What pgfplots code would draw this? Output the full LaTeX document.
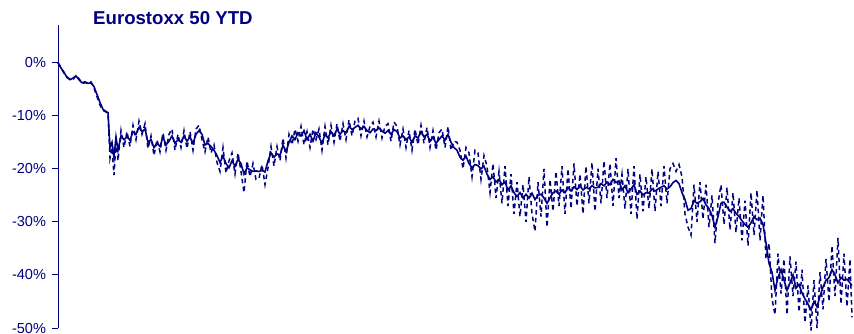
\documentclass[border=0pt]{standalone}
\usepackage{fontspec}
\setmainfont{Liberation Sans}
\usepackage{pgfplots}
\pgfplotsset{compat=1.18}
\definecolor{navy}{RGB}{0,0,128}
\begin{document}
\begin{tikzpicture}
\useasboundingbox (-58bp,-6bp) rectangle (796bp,328bp);
\begin{axis}[
  at={(0,0)}, anchor=south west,
  scale only axis, width=794bp, height=303bp,
  xmin=0, xmax=794, ymin=-50, ymax=7.1,
  axis x line=none, axis y line*=left,
  axis line style={navy, line width=1pt},
  ytick={-50,-40,-30,-20,-10,0},
  yticklabels={-50\%,-40\%,-30\%,-20\%,-10\%,0\%},
  tick align=outside, major tick length=6bp,
  tick style={navy, line width=1pt},
  yticklabel style={text=navy, font=\fontsize{14.6}{16}\selectfont, xshift=-2.5bp},
  clip=false,
]
\addplot[navy, line width=1.5pt, dash pattern=on 4.5pt off 3.5pt] coordinates {
(0,0)(3,-0.9)(6,-2.0)(9,-2.7)(12,-3.1)(15,-3.2)(18,-2.4)(21,-3.0)(24,-3.9)(27,-3.8)(30,-3.9)(33,-3.6)(36,-4.8)(39,-6.4)(42,-8.0)(45,-9.0)(48,-9.3)(50,-9.5)
(52,-18.0)(54,-16.0)(56,-21.2)(58,-15.0)(60,-18.5)(63,-12.8)(66,-16.0)(69,-13.0)(72,-15.8)(75,-11.8)(78,-14.5)(81,-11.0)(84,-13.5)(87,-11.5)(90,-16.2)(93,-13.8)(96,-17.5)(99,-14.5)
(102,-16.8)(105,-13.2)(108,-16.5)(111,-13.5)(114,-12.5)(117,-16.5)(120,-13.5)(123,-16.0)(126,-12.8)(129,-16.2)(132,-13.0)(135,-16.5)(138,-12.5)(141,-11.8)(144,-14.5)(147,-16.8)
(150,-14.0)(153,-17.0)(156,-15.5)(159,-18.8)(162,-20.5)(165,-16.0)(168,-20.8)(171,-18.5)(174,-17.0)(177,-21.0)(180,-17.0)(183,-20.5)(186,-24.5)(189,-18.5)(192,-21.5)(195,-19.0)
(198,-22.0)(201,-21.8)(204,-19.2)(207,-23.0)(210,-19.8)(213,-15.8)(216,-19.5)(219,-15.8)(222,-18.5)(225,-14.2)(228,-18.0)(231,-13.5)(234,-15.5)(237,-12.5)(240,-14.8)(243,-12.0)
(246,-15.5)(249,-13.0)(252,-16.0)(255,-12.5)(258,-14.5)(261,-12.5)(264,-16.5)(267,-12.0)(270,-15.5)(273,-11.8)(276,-15.0)(279,-11.5)(282,-14.8)(285,-11.5)(288,-14.5)(291,-10.8)
(294,-13.8)(297,-11.0)(300,-10.5)(303,-13.8)(306,-11.0)(309,-14.0)(312,-12.0)(315,-11.2)(318,-14.0)(321,-11.0)(324,-14.2)(327,-12.0)(330,-11.5)(333,-14.8)(336,-11.2)(339,-12.0)
(342,-15.5)(345,-12.5)(348,-16.0)(351,-12.8)(354,-16.5)(357,-12.5)(360,-15.5)(363,-11.8)(366,-15.2)(369,-12.2)(372,-16.0)(375,-12.8)(378,-16.5)(381,-13.2)(384,-12.5)(387,-16.0)
(390,-12.0)(393,-16.5)(396,-14.8)(399,-15.0)(402,-16.5)(405,-20.0)(408,-16.0)(411,-17.0)(414,-21.5)(417,-16.5)(420,-17.0)(423,-22.0)(426,-17.5)(429,-19.5)(432,-24.5)(435,-19.0)
(438,-25.5)(441,-20.5)(444,-26.5)(447,-19.5)(450,-27.0)(453,-21.0)(456,-28.5)(459,-22.5)(462,-29.0)(465,-23.0)(468,-30.0)(471,-21.5)(474,-28.5)(477,-31.8)(480,-22.5)(483,-29.0)
(486,-20.0)(489,-31.0)(492,-22.0)(495,-28.0)(498,-20.5)(501,-27.0)(504,-19.5)(507,-28.5)(510,-20.0)(513,-27.5)(516,-19.0)(519,-27.0)(522,-21.0)(525,-28.5)(528,-19.5)(531,-26.5)
(534,-18.8)(537,-28.0)(540,-20.0)(543,-26.5)(546,-18.5)(549,-25.5)(552,-19.0)(555,-27.0)(558,-18.0)(561,-25.5)(564,-21.0)(567,-27.5)(570,-20.0)(573,-28.5)(576,-19.5)(579,-29.5)
(582,-21.0)(585,-28.0)(588,-21.5)(591,-27.5)(594,-20.0)(597,-28.0)(600,-20.5)(603,-27.0)(606,-19.5)(609,-26.5)(612,-20.0)(615,-19.0)(618,-20.5)(621,-19.2)(624,-21.5)(627,-28.5)
(630,-31.0)(633,-32.5)(636,-23.0)(639,-30.0)(642,-22.5)(645,-29.5)(648,-23.0)(651,-31.0)(654,-25.0)(657,-34.0)(660,-26.5)(663,-23.0)(666,-30.5)(669,-23.5)(672,-31.5)(675,-24.5)
(678,-32.0)(681,-25.5)(684,-33.5)(687,-26.0)(690,-34.5)(693,-24.5)(696,-32.5)(699,-24.0)(702,-33.5)(705,-25.0)(708,-37.0)(711,-34.0)(714,-44.5)(717,-47.5)(720,-36.0)(723,-43.5)
(726,-37.0)(729,-47.5)(732,-36.5)(735,-44.0)(738,-37.5)(741,-47.0)(744,-39.0)(747,-49.0)(750,-42.0)(753,-50.5)(756,-41.0)(759,-50.0)(762,-39.5)(765,-46.5)(768,-37.0)(771,-45.0)
(774,-34.5)(777,-44.0)(780,-33.0)(783,-45.5)(786,-36.0)(789,-46.0)(792,-37.0)(794,-48.0)
};
\addplot[navy, line width=1.6pt] coordinates {
(0,0)(3,-1.0)(6,-1.8)(9,-2.8)(12,-3.2)(15,-2.9)(18,-2.5)(21,-3.2)(24,-3.8)(27,-3.6)(30,-3.9)(33,-3.8)(36,-4.5)(39,-6.0)(42,-7.5)(45,-8.8)(48,-9.2)(50,-9.4)
(52,-16.0)(54,-15.0)(56,-17.8)(58,-14.0)(60,-16.5)(63,-13.8)(66,-14.5)(69,-14.0)(72,-14.6)(75,-13.0)(78,-13.5)(81,-12.2)(84,-13.0)(87,-12.5)(90,-15.0)(93,-14.5)(96,-16.0)(99,-15.2)
(102,-15.8)(105,-14.0)(108,-15.5)(111,-14.8)(114,-13.8)(117,-15.2)(120,-14.5)(123,-15.0)(126,-13.8)(129,-14.8)(132,-14.0)(135,-15.2)(138,-13.5)(141,-12.8)(144,-13.5)(147,-15.5)
(150,-15.2)(153,-15.8)(156,-16.5)(159,-17.5)(162,-18.8)(165,-17.6)(168,-19.0)(171,-19.8)(174,-18.5)(177,-19.5)(180,-18.2)(183,-19.0)(186,-21.0)(189,-19.8)(192,-20.2)(195,-20.5)
(198,-20.4)(201,-20.5)(204,-20.3)(207,-20.6)(210,-18.5)(213,-17.0)(216,-17.8)(219,-17.2)(222,-17.5)(225,-15.5)(228,-16.8)(231,-15.0)(234,-13.8)(237,-14.5)(240,-13.2)(243,-13.8)
(246,-12.8)(249,-14.5)(252,-13.5)(255,-14.8)(258,-13.2)(261,-14.0)(264,-15.2)(267,-13.5)(270,-14.2)(273,-13.0)(276,-13.8)(279,-12.5)(282,-13.5)(285,-12.8)(288,-13.2)(291,-12.0)
(294,-12.6)(297,-12.2)(300,-11.8)(303,-12.5)(306,-12.0)(309,-12.8)(312,-13.2)(315,-12.5)(318,-12.8)(321,-12.3)(324,-12.9)(327,-13.3)(330,-12.8)(333,-13.5)(336,-12.6)(339,-13.0)
(342,-14.2)(345,-13.8)(348,-14.5)(351,-14.0)(354,-15.0)(357,-13.8)(360,-14.2)(363,-13.0)(366,-14.0)(369,-13.5)(372,-14.8)(375,-14.0)(378,-15.2)(381,-14.5)(384,-13.8)(387,-14.6)
(390,-13.5)(393,-15.0)(396,-16.0)(399,-16.5)(402,-17.8)(405,-18.4)(408,-17.6)(411,-19.0)(414,-19.8)(417,-19.2)(420,-19.4)(423,-20.0)(426,-19.5)(429,-21.0)(432,-22.0)(435,-21.5)
(438,-22.5)(441,-22.0)(444,-23.0)(447,-22.5)(450,-24.0)(453,-23.2)(456,-24.5)(459,-25.2)(462,-24.5)(465,-25.5)(468,-24.8)(471,-25.5)(474,-24.6)(477,-25.8)(480,-25.0)(483,-24.8)
(486,-25.5)(489,-26.5)(492,-25.5)(495,-24.5)(498,-24.2)(501,-24.8)(504,-24.0)(507,-24.5)(510,-23.5)(513,-24.2)(516,-23.4)(519,-23.9)(522,-23.2)(525,-24.0)(528,-23.5)(531,-23.8)
(534,-23.2)(537,-23.6)(540,-23.5)(543,-22.8)(546,-23.2)(549,-22.5)(552,-23.0)(555,-22.0)(558,-22.6)(561,-22.3)(564,-24.0)(567,-23.2)(570,-24.5)(573,-23.8)(576,-23.0)(579,-24.8)
(582,-24.2)(585,-24.9)(588,-24.5)(591,-24.6)(594,-23.8)(597,-24.2)(600,-23.8)(603,-23.5)(606,-23.2)(609,-23.8)(612,-23.4)(615,-22.6)(618,-22.2)(621,-22.8)(624,-24.5)(627,-25.8)
(630,-27.8)(633,-27.5)(636,-26.0)(639,-26.5)(642,-26.2)(645,-25.6)(648,-26.8)(651,-27.5)(654,-28.8)(657,-31.0)(660,-29.0)(663,-26.5)(666,-26.3)(669,-27.2)(672,-28.0)(675,-27.5)
(678,-28.4)(681,-29.0)(684,-29.8)(687,-30.5)(690,-31.0)(693,-30.2)(696,-29.0)(699,-29.6)(702,-29.3)(705,-30.5)(708,-34.0)(711,-37.8)(714,-39.5)(717,-42.9)(720,-40.5)(723,-39.0)
(726,-41.0)(729,-42.9)(732,-41.5)(735,-40.0)(738,-42.5)(741,-41.8)(744,-43.4)(747,-44.5)(750,-45.5)(753,-46.6)(756,-45.0)(759,-46.0)(762,-44.0)(765,-42.3)(768,-41.0)(771,-40.5)
(774,-39.0)(777,-40.0)(780,-41.5)(783,-40.5)(786,-41.0)(789,-40.8)(792,-41.5)(794,-42.0)
};
\end{axis}
\node[anchor=base west, inner sep=0pt, text=navy, font=\bfseries\fontsize{18.7}{20}\selectfont] at (35bp,303bp) {Eurostoxx 50 YTD};
\end{tikzpicture}
\end{document}
